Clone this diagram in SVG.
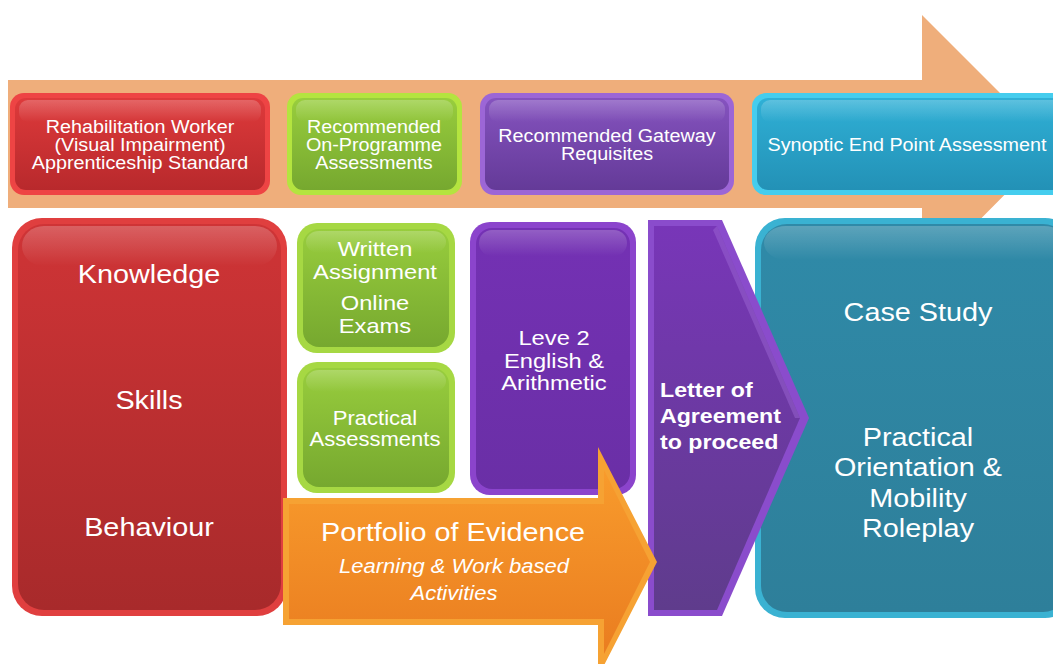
<svg xmlns="http://www.w3.org/2000/svg" width="1053" height="664" viewBox="0 0 1053 664">
  <defs>
    <!-- body fills: light at the top, darker at the bottom -->
    <linearGradient id="gRed" x1="0" y1="0" x2="0" y2="1">
      <stop offset="0" stop-color="#de3a3b"/>
      <stop offset="1" stop-color="#b8292c"/>
    </linearGradient>
    <linearGradient id="gRedBig" x1="0" y1="0" x2="0" y2="1">
      <stop offset="0" stop-color="#cf3436"/>
      <stop offset="1" stop-color="#a82a2b"/>
    </linearGradient>
    <linearGradient id="gGreen" x1="0" y1="0" x2="0" y2="1">
      <stop offset="0" stop-color="#98cd3d"/>
      <stop offset="1" stop-color="#76a82f"/>
    </linearGradient>
    <linearGradient id="gPurple" x1="0" y1="0" x2="0" y2="1">
      <stop offset="0" stop-color="#8553bf"/>
      <stop offset="1" stop-color="#643a98"/>
    </linearGradient>
    <linearGradient id="gPurpleDeep" x1="0" y1="0" x2="0" y2="1">
      <stop offset="0" stop-color="#7431b4"/>
      <stop offset="1" stop-color="#6a2fa6"/>
    </linearGradient>
    <linearGradient id="gLetter" x1="0" y1="0" x2="0" y2="1">
      <stop offset="0" stop-color="#7836b8"/>
      <stop offset="1" stop-color="#5f3c8c"/>
    </linearGradient>
    <linearGradient id="gCyan" x1="0" y1="0" x2="0" y2="1">
      <stop offset="0" stop-color="#2fb0d6"/>
      <stop offset="1" stop-color="#2391b6"/>
    </linearGradient>
    <linearGradient id="gTeal" x1="0" y1="0" x2="0" y2="1">
      <stop offset="0" stop-color="#2f8aa8"/>
      <stop offset="1" stop-color="#2e7f9a"/>
    </linearGradient>
    <linearGradient id="gOrange" x1="0" y1="0" x2="0" y2="1">
      <stop offset="0" stop-color="#f89b2c"/>
      <stop offset="1" stop-color="#ea7d20"/>
    </linearGradient>
    <!-- soft top sheen shared by the bevelled boxes -->
    <linearGradient id="gSheen" x1="0" y1="0" x2="0" y2="1">
      <stop offset="0" stop-color="#ffffff" stop-opacity="0.22"/>
      <stop offset="1" stop-color="#ffffff" stop-opacity="0"/>
    </linearGradient>
    <style>
      .lbl { font-family: "Liberation Sans", Arial, sans-serif; fill: #ffffff; text-anchor: middle; }
      .top { font-size: 17.5px; }
      .big { font-size: 25.5px; }
      .mid { font-size: 21px; }
      .bold { font-weight: bold; text-anchor: start; font-size: 20.5px; }
      .ital { font-style: italic; font-size: 19.5px; }
      .sheen { fill: url(#gSheen); }
    </style>
  </defs>

  <rect width="1053" height="664" fill="#ffffff"/>

  <!-- long peach arrow running behind the header row -->
  <g id="timeline-arrow">
    <polygon points="8,80 922,80 922,15 1053,146 922,278 922,208 8,208" fill="#efae7b"/>
  </g>

  <!-- header row -->
  <g id="hdr-standard">
    <rect x="10" y="93" width="260" height="102" rx="14" fill="#ee4444"/>
    <rect x="15" y="98" width="250" height="92" rx="11" fill="url(#gRed)"/>
    <rect x="19" y="100" width="242" height="22" rx="9" class="sheen"/>
    <g transform="translate(140,0) scale(1.13,1)">
      <text class="lbl top" x="0" y="133">Rehabilitation Worker</text>
      <text class="lbl top" x="0" y="151">(Visual Impairment)</text>
      <text class="lbl top" x="0" y="169">Apprenticeship Standard</text>
    </g>
  </g>

  <g id="hdr-onprogramme">
    <rect x="287" y="93" width="175" height="102" rx="14" fill="#b4e43f"/>
    <rect x="292" y="98" width="165" height="92" rx="11" fill="url(#gGreen)"/>
    <rect x="296" y="100" width="157" height="22" rx="9" class="sheen"/>
    <g transform="translate(374,0) scale(1.13,1)">
      <text class="lbl top" x="0" y="133">Recommended</text>
      <text class="lbl top" x="0" y="151">On-Programme</text>
      <text class="lbl top" x="0" y="169">Assessments</text>
    </g>
  </g>

  <g id="hdr-gateway">
    <rect x="480" y="93" width="254" height="102" rx="14" fill="#9c66d6"/>
    <rect x="485" y="98" width="244" height="92" rx="11" fill="url(#gPurple)"/>
    <rect x="489" y="100" width="236" height="22" rx="9" class="sheen"/>
    <g transform="translate(607,0) scale(1.13,1)">
      <text class="lbl top" x="0" y="142">Recommended Gateway</text>
      <text class="lbl top" x="0" y="160">Requisites</text>
    </g>
  </g>

  <g id="hdr-synoptic">
    <rect x="752" y="93" width="320" height="102" rx="14" fill="#45cdee"/>
    <rect x="757" y="98" width="310" height="92" rx="11" fill="url(#gCyan)"/>
    <rect x="761" y="100" width="302" height="22" rx="9" class="sheen"/>
    <g transform="translate(907,0) scale(1.13,1)">
      <text class="lbl top" x="0" y="151">Synoptic End Point Assessment</text>
    </g>
  </g>

  <!-- lower row -->
  <g id="ksb">
    <rect x="12" y="218" width="275" height="398" rx="30" fill="#e03f3f"/>
    <rect x="18" y="224" width="263" height="386" rx="26" fill="url(#gRedBig)"/>
    <rect x="22" y="226" width="255" height="40" rx="22" class="sheen"/>
    <g transform="translate(149,0) scale(1.13,1)">
      <text class="lbl big" x="0" y="283">Knowledge</text>
      <text class="lbl big" x="0" y="409">Skills</text>
      <text class="lbl big" x="0" y="536">Behaviour</text>
    </g>
  </g>

  <g id="written-online">
    <rect x="297" y="223" width="158" height="130" rx="20" fill="#a6d843"/>
    <rect x="303" y="229" width="146" height="118" rx="16" fill="url(#gGreen)"/>
    <rect x="306" y="231" width="140" height="22" rx="13" class="sheen"/>
    <g transform="translate(375,0) scale(1.13,1)">
      <text class="lbl mid" x="0" y="256">Written</text>
      <text class="lbl mid" x="0" y="279">Assignment</text>
      <text class="lbl mid" x="0" y="310">Online</text>
      <text class="lbl mid" x="0" y="333">Exams</text>
    </g>
  </g>

  <g id="practical-assessments">
    <rect x="297" y="362" width="158" height="131" rx="20" fill="#a6d843"/>
    <rect x="303" y="368" width="146" height="119" rx="16" fill="url(#gGreen)"/>
    <rect x="306" y="370" width="140" height="22" rx="13" class="sheen"/>
    <g transform="translate(375,0) scale(1.13,1)">
      <text class="lbl" x="0" y="425" style="font-size:19.5px">Practical</text>
      <text class="lbl" x="0" y="446" style="font-size:19.5px">Assessments</text>
    </g>
  </g>

  <g id="english-arithmetic">
    <rect x="470" y="222" width="166" height="273" rx="20" fill="#8b44cc"/>
    <rect x="476" y="228" width="154" height="261" rx="16" fill="url(#gPurpleDeep)"/>
    <rect x="479" y="230" width="148" height="26" rx="13" class="sheen"/>
    <g transform="translate(554,0) scale(1.13,1)">
      <text class="lbl mid" x="0" y="345">Leve 2</text>
      <text class="lbl mid" x="0" y="368">English &amp;</text>
      <text class="lbl mid" x="0" y="390">Arithmetic</text>
    </g>
  </g>

  <g id="end-point-assessment">
    <rect x="755" y="218" width="320" height="400" rx="30" fill="#3ab2d2"/>
    <rect x="761" y="224" width="308" height="388" rx="26" fill="url(#gTeal)"/>
    <rect x="764" y="226" width="302" height="34" rx="22" class="sheen"/>
    <g transform="translate(918,0) scale(1.13,1)">
      <text class="lbl big" x="0" y="321">Case Study</text>
      <text class="lbl big" x="0" y="446">Practical</text>
      <text class="lbl big" x="0" y="476">Orientation &amp;</text>
      <text class="lbl big" x="0" y="507">Mobility</text>
      <text class="lbl big" x="0" y="537">Roleplay</text>
    </g>
  </g>

  <g id="letter-of-agreement">
    <polygon points="648,220 722,220 809,418 722,616 648,616" fill="#8a4ccc"/>
    <polygon points="654,226 717,226 800,418 717,610 654,610" fill="url(#gLetter)"/>
    <polygon points="717,226 800,418 795,418 713,230" fill="#a06ad8" opacity="0.45"/>
    <g transform="translate(660,0) scale(1.13,1)">
      <text class="lbl bold" x="0" y="397">Letter of</text>
      <text class="lbl bold" x="0" y="423">Agreement</text>
      <text class="lbl bold" x="0" y="449">to proceed</text>
    </g>
  </g>

  <g id="portfolio">
    <polygon points="283,498 598,498 598,447 657,562 598,677 598,625 283,625" fill="#f6a233"/>
    <polygon points="289,504 604,504 604,470 650,562 604,654 604,619 289,619" fill="url(#gOrange)"/>
    <g transform="translate(453,0) scale(1.13,1)">
      <text class="lbl big" x="0" y="541">Portfolio of Evidence</text>
    </g>
    <g transform="translate(454,0) scale(1.13,1)">
      <text class="lbl ital" x="0" y="573">Learning &amp; Work based</text>
      <text class="lbl ital" x="0" y="600">Activities</text>
    </g>
  </g>
</svg>
